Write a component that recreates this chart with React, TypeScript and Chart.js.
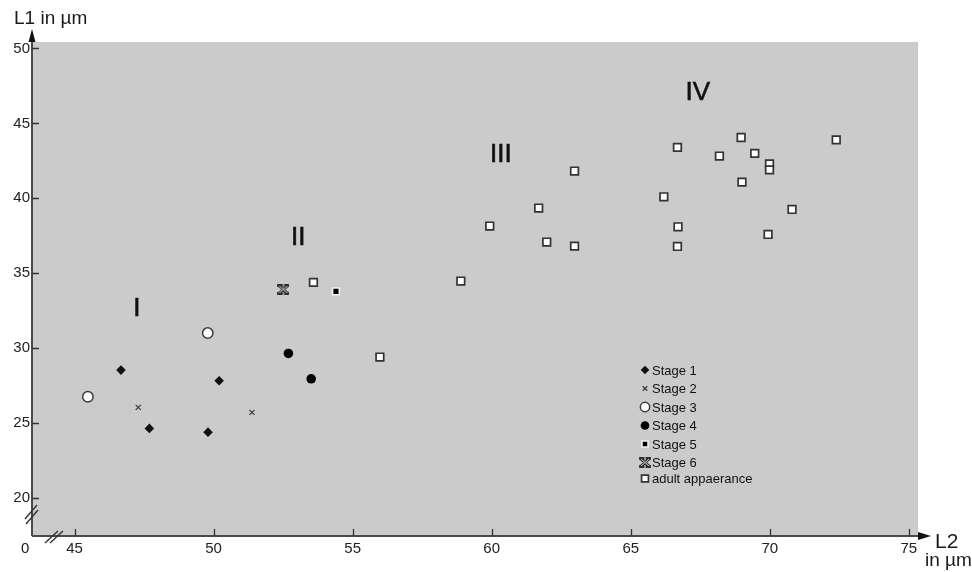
import React, { useEffect, useRef } from 'react';
import { Chart, registerables } from 'chart.js';
import { drawPoint } from 'chart.js/helpers';

Chart.register(...registerables);

const xTicks = [45, 50, 55, 60, 65, 70, 75];
const yTicks = [20, 25, 30, 35, 40, 45, 50];

const stage1 = [
  { x: 46.67, y: 28.54 },
  { x: 47.69, y: 24.65 },
  { x: 50.2, y: 27.83 },
  { x: 49.8, y: 24.4 },
];
const stage2 = [
  { x: 47.29, y: 26.05 },
  { x: 51.38, y: 25.72 },
];
const stage3 = [
  { x: 45.48, y: 26.76 },
  { x: 49.79, y: 31.01 },
];
const stage4 = [
  { x: 52.69, y: 29.65 },
  { x: 53.51, y: 27.96 },
];
const stage5 = [{ x: 54.4, y: 33.79 }];
const stage6 = [{ x: 52.51, y: 33.92 }];
const adult = [
  { x: 53.59, y: 34.39 },
  { x: 55.98, y: 29.41 },
  { x: 58.89, y: 34.48 },
  { x: 59.93, y: 38.15 },
  { x: 61.69, y: 39.35 },
  { x: 61.98, y: 37.08 },
  { x: 62.98, y: 41.82 },
  { x: 62.98, y: 36.81 },
  { x: 66.19, y: 40.1 },
  { x: 66.68, y: 43.4 },
  { x: 66.7, y: 38.1 },
  { x: 66.68, y: 36.79 },
  { x: 68.19, y: 42.82 },
  { x: 68.97, y: 44.06 },
  { x: 69.46, y: 43.0 },
  { x: 69.0, y: 41.08 },
  { x: 69.99, y: 42.3 },
  { x: 69.99, y: 41.9 },
  { x: 69.94, y: 37.59 },
  { x: 70.8, y: 39.26 },
  { x: 72.39, y: 43.9 },
];

const seriesLabels = ['Stage 1', 'Stage 2', 'Stage 3', 'Stage 4', 'Stage 5', 'Stage 6', 'adult appaerance'];
const groupNames = ['I', 'II', 'III', 'IV'];
const groupX = [47.24, 53.04, 60.33, 67.41];
const groupY = [32.64, 37.35, 42.92, 47.05];

function makeStage6Icon(): HTMLCanvasElement {
  const c = document.createElement('canvas');
  c.width = 12;
  c.height = 11;
  const g = c.getContext('2d')!;
  const path = () => {
    g.beginPath();
    g.moveTo(2, 2);
    g.lineTo(10, 9);
    g.moveTo(10, 2);
    g.lineTo(2, 9);
    g.moveTo(1.5, 1.5);
    g.lineTo(4, 1.5);
    g.moveTo(8, 1.5);
    g.lineTo(10.5, 1.5);
    g.moveTo(1.5, 9.5);
    g.lineTo(4, 9.5);
    g.moveTo(8, 9.5);
    g.lineTo(10.5, 9.5);
  };
  g.lineCap = 'square';
  path();
  g.strokeStyle = '#2e2e2e';
  g.lineWidth = 2.8;
  g.stroke();
  g.beginPath();
  g.moveTo(2.5, 2.5);
  g.lineTo(9.5, 8.5);
  g.moveTo(9.5, 2.5);
  g.lineTo(2.5, 8.5);
  g.strokeStyle = '#e2e2e2';
  g.lineWidth = 0.9;
  g.stroke();
  return c;
}

const FONT = 'Arial, "Liberation Sans", sans-serif';

export default function App() {
  const ref = useRef<HTMLCanvasElement | null>(null);

  useEffect(() => {
    if (!ref.current) return;
    const s6 = makeStage6Icon();

    const datasets: any[] = [
      { data: stage1, pointStyle: 'rectRot', pointRadius: 4.8, backgroundColor: '#111', borderColor: '#111', borderWidth: 0 },
      { data: stage2, pointStyle: 'crossRot', pointRadius: 3.6, backgroundColor: '#3a3a3a', borderColor: '#3a3a3a', borderWidth: 1.2 },
      { data: stage3, pointStyle: 'circle', pointRadius: 5.2, backgroundColor: '#ffffff', borderColor: '#3a3a3a', borderWidth: 1.5 },
      { data: stage4, pointStyle: 'circle', pointRadius: 4.8, backgroundColor: '#000', borderColor: '#000', borderWidth: 0 },
      { data: stage5, pointStyle: 'rect', pointRadius: 4.8, backgroundColor: '#000', borderColor: '#f4f4f4', borderWidth: 1.6 },
      { data: stage6, pointStyle: s6, pointRadius: 5, backgroundColor: '#333', borderColor: '#333', borderWidth: 0 },
      { data: adult, pointStyle: 'rect', pointRadius: 5.4, backgroundColor: '#ffffff', borderColor: '#333', borderWidth: 1.7 },
    ].map((d, i) => ({ ...d, label: seriesLabels[i], showLine: false, pointHoverRadius: d.pointRadius }));

    const decor = {
      id: 'decor',
      beforeDraw(chart: any) {
        const { ctx, chartArea: a } = chart;
        ctx.save();
        ctx.fillStyle = '#cbcbcb';
        ctx.fillRect(a.left, a.top, a.right - a.left, a.bottom - a.top);
        ctx.restore();
      },
      afterDraw(chart: any) {
        const { ctx, chartArea: a } = chart;
        const xs = chart.scales.x;
        const ys = chart.scales.y;
        ctx.save();
        // axes
        ctx.strokeStyle = '#4a4a4a';
        ctx.lineWidth = 2;
        ctx.beginPath();
        ctx.moveTo(a.left, a.bottom);
        ctx.lineTo(a.left, a.top - 2);
        ctx.moveTo(a.left, a.bottom);
        ctx.lineTo(a.right + 2, a.bottom);
        ctx.stroke();
        // arrows
        ctx.fillStyle = '#111';
        ctx.beginPath();
        ctx.moveTo(a.left, a.top - 13);
        ctx.lineTo(a.left - 3.5, a.top);
        ctx.lineTo(a.left + 3.5, a.top);
        ctx.closePath();
        ctx.fill();
        ctx.beginPath();
        ctx.moveTo(a.right + 13, a.bottom);
        ctx.lineTo(a.right, a.bottom - 4);
        ctx.lineTo(a.right, a.bottom + 4);
        ctx.closePath();
        ctx.fill();
        // inward ticks
        ctx.strokeStyle = '#333';
        ctx.lineWidth = 1.3;
        ctx.beginPath();
        xTicks.forEach((v) => {
          const px = Math.round(xs.getPixelForValue(v)) + 0.5;
          ctx.moveTo(px, a.bottom);
          ctx.lineTo(px, a.bottom - 7);
        });
        yTicks.forEach((v) => {
          const py = Math.round(ys.getPixelForValue(v)) + 0.5;
          ctx.moveTo(a.left, py);
          ctx.lineTo(a.left + 7, py);
        });
        ctx.stroke();
        // axis breaks
        ctx.strokeStyle = '#333';
        ctx.lineWidth = 1.4;
        ctx.beginPath();
        ctx.moveTo(a.left - 7, a.bottom - 17);
        ctx.lineTo(a.left + 5, a.bottom - 31);
        ctx.moveTo(a.left - 6, a.bottom - 12);
        ctx.lineTo(a.left + 6, a.bottom - 26);
        ctx.moveTo(a.left + 13, a.bottom + 7);
        ctx.lineTo(a.left + 26, a.bottom - 5);
        ctx.moveTo(a.left + 18, a.bottom + 7);
        ctx.lineTo(a.left + 31, a.bottom - 5);
        ctx.stroke();
        // texts
        ctx.fillStyle = '#1a1a1a';
        ctx.textBaseline = 'alphabetic';
        ctx.textAlign = 'left';
        ctx.font = `15px ${FONT}`;
        ctx.fillText('0', a.left - 11, a.bottom + 17);
        ctx.font = `19px ${FONT}`;
        ctx.fillText('L1 in µm', 14, 24);
        ctx.font = `21px ${FONT}`;
        ctx.fillText('L2', a.right + 17, a.bottom + 12);
        ctx.font = `19px ${FONT}`;
        ctx.fillText('in µm', a.right + 7, a.bottom + 30);
        // group numerals
        ctx.font = `26px ${FONT}`;
        ctx.textAlign = 'center';
        ctx.textBaseline = 'middle';
        ctx.fillStyle = '#111';
        ctx.strokeStyle = '#111';
        ctx.lineWidth = 0.6;
        groupNames.forEach((t, i) => {
          const px = xs.getPixelForValue(groupX[i]);
          const py = ys.getPixelForValue(groupY[i]);
          ctx.fillText(t, px, py);
          ctx.strokeText(t, px, py);
        });
        // legend
        const lx = 645;
        const ly = [370, 388.5, 407, 425.5, 444, 462.5, 478.5];
        ctx.font = `13px ${FONT}`;
        ctx.textAlign = 'left';
        ctx.textBaseline = 'middle';
        chart.data.datasets.forEach((d: any, i: number) => {
          const y = ly[i];
          ctx.save();
          ctx.fillStyle = d.backgroundColor;
          ctx.strokeStyle = d.borderColor;
          ctx.lineWidth = d.borderWidth;
          drawPoint(ctx, { pointStyle: d.pointStyle, rotation: 0, radius: d.pointRadius * 0.9, borderWidth: d.borderWidth }, lx, y);
          ctx.restore();
          ctx.fillStyle = '#111';
          ctx.fillText(d.label, lx + 7, y + 1);
        });
        ctx.restore();
      },
    };

    const chart = new Chart(ref.current, {
      type: 'scatter',
      data: { datasets },
      options: {
        animation: false,
        responsive: false,
        devicePixelRatio: 1,
        layout: { padding: { left: 0, top: 42, right: 54, bottom: 0 } },
        plugins: { legend: { display: false }, tooltip: { enabled: false } },
        scales: {
          x: {
            type: 'linear',
            min: 43.47,
            max: 75.33,
            grid: { display: false, drawTicks: false },
            border: { display: false },
            afterBuildTicks: (s: any) => {
              s.ticks = xTicks.map((v) => ({ value: v }));
            },
            afterFit: (s: any) => {
              s.height = 36;
            },
            ticks: { color: '#222', font: { family: FONT, size: 15 }, padding: 4, maxRotation: 0, autoSkip: false },
          },
          y: {
            type: 'linear',
            min: 17.47,
            max: 50.43,
            grid: { display: false, drawTicks: false },
            border: { display: false },
            afterBuildTicks: (s: any) => {
              s.ticks = yTicks.map((v) => ({ value: v }));
            },
            afterFit: (s: any) => {
              s.width = 32;
            },
            ticks: { color: '#222', font: { family: FONT, size: 15 }, padding: 2, autoSkip: false },
          },
        },
      },
      plugins: [decor],
    });
    return () => chart.destroy();
  }, []);

  return (
    <div style={{ position: 'absolute', left: 0, top: 0, width: 972, height: 572, background: '#fff' }}>
      <canvas ref={ref} width={972} height={572} style={{ display: 'block' }} />
    </div>
  );
}
